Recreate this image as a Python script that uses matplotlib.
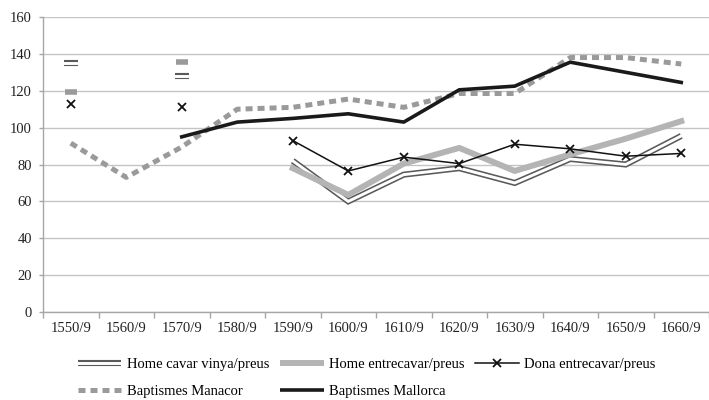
import numpy as np
import matplotlib
matplotlib.use("Agg")
import matplotlib.pyplot as plt
from matplotlib.lines import Line2D

nan = np.nan
categories = ['1550/9', '1560/9', '1570/9', '1580/9', '1590/9', '1600/9',
              '1610/9', '1620/9', '1630/9', '1640/9', '1650/9', '1660/9']
home_cavar = [135.3, nan, 128.2, nan, 82, 60, 74.5, 78, 70, 83, 80, 95.5]
home_entre = [119.5, nan, 135.6, nan, 78, 63.5, 80.5, 89, 76.5, 85.5, 94, 103.5]
dona = [112.8, nan, 111.3, nan, 93, 76.5, 84, 80.5, 91, 88.5, 84.5, 86]
manacor = [91.6, 73, 89.5, 110, 111, 115.5, 111, 118.5, 118.5, 138, 138, 134.5]
mallorca = [nan, nan, 95, 103, 105, 107.5, 103, 120.5, 122.5, 135.5, 130, 124.5]
yticks = [0, 20, 40, 60, 80, 100, 120, 140, 160]
labels = ['Home cavar vinya/preus', 'Home entrecavar/preus', 'Dona entrecavar/preus',
          'Baptismes Manacor', 'Baptismes Mallorca']

plt.rcParams['font.family'] = ['Liberation Serif', 'DejaVu Serif']
plt.rcParams['font.size'] = 10.5

fig = plt.figure(figsize=(7.09, 4.0), dpi=100)
ax = fig.add_axes([43/709, 88/400, 666/709, 295/400])

x = np.arange(len(categories))


def isolated(vals):
    v = np.array(vals, dtype=float)
    xi, yi = [], []
    for i in range(len(v)):
        if np.isnan(v[i]):
            continue
        left = np.isnan(v[i-1]) if i > 0 else True
        right = np.isnan(v[i+1]) if i < len(v) - 1 else True
        if left and right:
            xi.append(i)
            yi.append(v[i])
    return xi, yi


dark = '#5a5a5a'
lgray = '#b4b4b4'
mgray = '#9a9a9a'

# Home cavar vinya: double line
ax.plot(x, home_cavar, color=dark, lw=4.4, solid_joinstyle='miter',
        solid_capstyle='butt', zorder=3)
ax.plot(x, home_cavar, color='white', lw=2.1, solid_joinstyle='miter',
        solid_capstyle='projecting', zorder=3.1)
xi, yi = isolated(home_cavar)
ax.plot(xi, yi, ls='none', marker='_', ms=10, mew=4.4, color=dark, zorder=3)
ax.plot(xi, yi, ls='none', marker='_', ms=11, mew=2.1, color='white', zorder=3.1)

# Home entrecavar: thick light gray
ax.plot(x, home_entre, color=lgray, lw=4.3, zorder=3.2)
xi, yi = isolated(home_entre)
ax.plot(xi, yi, ls='none', marker='_', ms=8, mew=4.0, color=mgray, zorder=3.2)

# Dona entrecavar: thin black with x
ax.plot(x, dona, color='#111111', lw=1.1, marker='x', ms=6, mew=1.3, zorder=3.3)

# Baptismes Manacor: gray dashed
ax.plot(x, manacor, color=mgray, lw=3.6, ls=(0, (1.4, 1.0)),
        dash_capstyle='butt', zorder=3.4)

# Baptismes Mallorca: thick black
ax.plot(x, mallorca, color='#1a1a1a', lw=2.6, zorder=3.5)

ax.set_xlim(-0.5, len(categories) - 0.5)
ax.set_ylim(0, 160)
ax.set_yticks(yticks)
ax.set_xticks(x)
ax.set_xticklabels(categories)
ax.set_xticks(np.arange(len(categories) + 1) - 0.5, minor=True)
ax.tick_params(axis='x', which='major', length=0, pad=7, labelsize=10.5, colors='#222222')
ax.tick_params(axis='x', which='minor', length=4, width=1, color='#a6a6a6', direction='out')
ax.tick_params(axis='y', length=3, width=1, color='#a6a6a6', pad=5, labelsize=10.5, labelcolor='#222222')
ax.grid(axis='y', color='#c4c4c4', lw=1)
ax.set_axisbelow(True)
for s in ['top', 'right']:
    ax.spines[s].set_visible(False)
for s in ['left', 'bottom']:
    ax.spines[s].set_color('#a6a6a6')
    ax.spines[s].set_linewidth(1)

# Legend
h_cavar = (Line2D([], [], color=dark, lw=4.4, solid_capstyle='butt'),
           Line2D([], [], color='white', lw=2.1, solid_capstyle='projecting'))
h_entre = Line2D([], [], color=lgray, lw=4.3, solid_capstyle='butt')
h_dona = Line2D([], [], color='#111111', lw=1.1, marker='x', ms=6, mew=1.3)
h_man = Line2D([], [], color=mgray, lw=3.6, ls=(0, (1.4, 1.0)), dash_capstyle='butt')
h_mal = Line2D([], [], color='#1a1a1a', lw=2.6, solid_capstyle='butt')
handles = [h_cavar, h_man, h_entre, h_mal, h_dona]
labs = [labels[0], labels[3], labels[1], labels[4], labels[2]]
fig.legend(handles, labs, ncol=3, loc='center', bbox_to_anchor=(0.517, 0.055),
           frameon=False, numpoints=1, handlelength=3.0, handletextpad=0.35,
           columnspacing=0.75, labelspacing=0.95, borderpad=0, borderaxespad=0,
           fontsize=10.5)

fig.savefig('out.png', dpi=100)
